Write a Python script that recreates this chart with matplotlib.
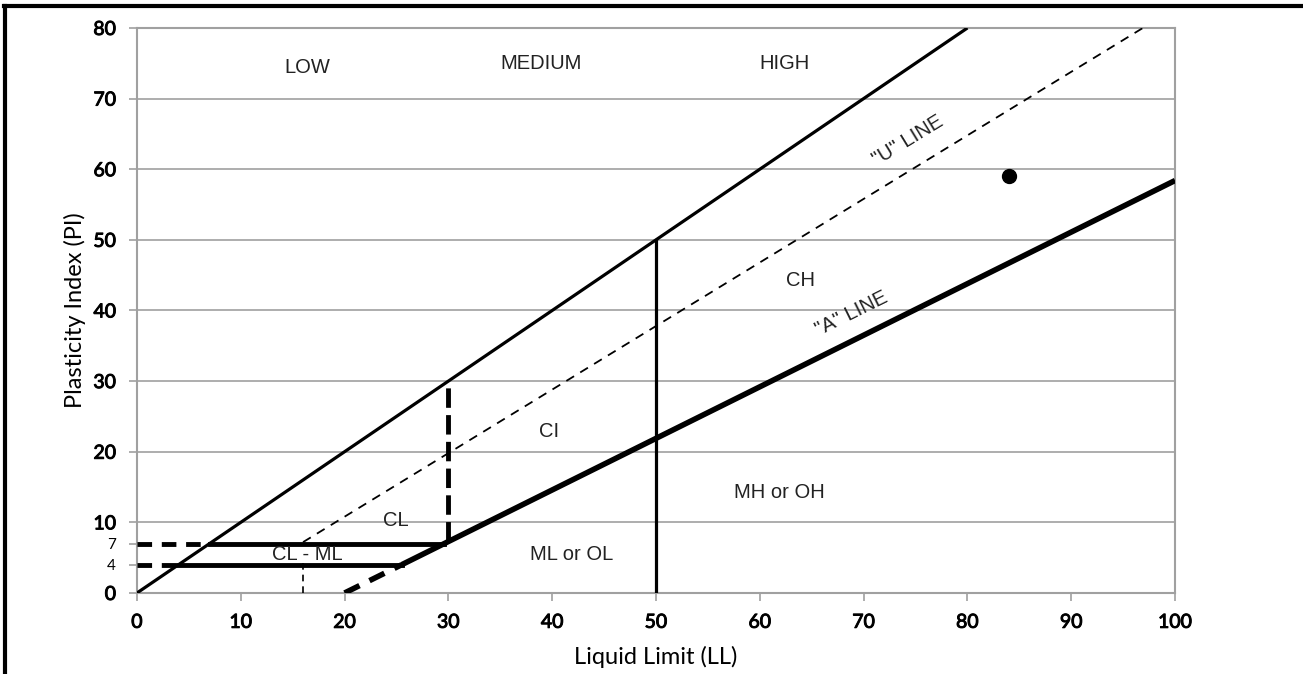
import matplotlib
matplotlib.use('Agg')
import matplotlib.pyplot as plt
import matplotlib.patheffects as pe
from matplotlib.lines import Line2D
import numpy as np

plt.rcParams['font.family'] = ['Liberation Sans', 'DejaVu Sans']

# boundary lines (liquid limit, plasticity index)
upper_ll = [0, 80]
upper_pi = [0, 80]
u_ll = [16, 96.9]
u_pi = [7.2, 80]
a_dash_ll = [20, 25.5]
a_dash_pi = [0, 4]
a_ll = [25.5, 100]
a_pi = [4, 58.4]
ll50_ll = [50, 50]
ll50_pi = [0, 50]
ll30_ll = [30, 30]
ll30_pi = [7.3, 30]
pi7_ll = [7, 29.6]
pi7_pi = [7, 7]
pi7_dash_ll = [0, 7]
pi4_ll = [4, 25.5]
pi4_pi = [4, 4]
pi4_dash_ll = [0, 4]
ll16_ll = [16, 16]
ll16_pi = [0, 4.5]

# sample point
sample_ll = [84]
sample_pi = [59]

zone_labels = ['LOW', 'MEDIUM', 'HIGH', 'CH', 'CI', 'CL', 'CL - ML', 'ML or OL', 'MH or OH']
zone_ll = [16.4, 38.9, 62.4, 63.9, 39.7, 24.9, 16.4, 41.9, 61.9]
zone_pi = [74.4, 74.9, 75.0, 44.2, 22.9, 10.2, 5.5, 5.4, 14.2]

x_ticks = [0, 10, 20, 30, 40, 50, 60, 70, 80, 90, 100]
y_ticks = [0, 4, 7, 10, 20, 30, 40, 50, 60, 70, 80]

fig = plt.figure(figsize=(13.03, 6.74), dpi=100)
ax = fig.add_axes([0.1051, 0.1202, 0.7967, 0.8383])

for y in [10, 20, 30, 40, 50, 60, 70, 80]:
    ax.axhline(y, color='#a0a0a0', lw=1.2, zorder=1)

ax.plot(upper_ll, upper_pi, color='black', lw=2.3, solid_capstyle='butt', zorder=3)
ax.plot(u_ll, u_pi, color='black', lw=1.3, ls=(0, (5, 4)), zorder=3)
ax.plot(a_ll, a_pi, color='black', lw=4, solid_capstyle='butt', zorder=3)
ax.plot(a_dash_ll, a_dash_pi, color='black', lw=4, ls=(0, (3, 2)), zorder=3)
ax.plot(ll50_ll, ll50_pi, color='black', lw=2.3, zorder=3)
ax.plot(ll30_ll, ll30_pi, color='black', lw=3.5, ls=(0, (4, 1.5)), zorder=3)
ax.plot(pi7_ll, pi7_pi, color='black', lw=3.5, zorder=3)
ax.plot(pi7_dash_ll, pi7_pi, color='black', lw=3.5, ls=(0, (3, 2)), zorder=3)
ax.plot(pi4_ll, pi4_pi, color='black', lw=3.5, zorder=3)
ax.plot(pi4_dash_ll, pi4_pi, color='black', lw=3.5, ls=(0, (3, 2)), zorder=3)
ax.plot(ll16_ll, ll16_pi, color='black', lw=1.2, ls=(0, (4, 3)), zorder=3)

ax.plot(sample_ll, sample_pi, 'o', color='black', markersize=10, zorder=4)

for lab, x, y in zip(zone_labels, zone_ll, zone_pi):
    ax.text(x, y, lab, fontsize=14.5, ha='center', va='center', color='#222222', zorder=5)

ax.text(74.3, 64.1, '"U" LINE', fontsize=14.5, ha='center', va='center', rotation=31.5, color='#222222')
ax.text(68.8, 39.6, '"A" LINE', fontsize=14.5, ha='center', va='center', rotation=26.4, color='#222222')

ax.set_xlim(0, 100)
ax.set_ylim(0, 80)
ax.set_xticks(x_ticks)
ax.set_yticks(y_ticks)
tick_font = ['Lato', 'DejaVu Sans']
bold_fx = [pe.withStroke(linewidth=0.7, foreground='black')]
xlabs = ax.set_xticklabels([str(t) for t in x_ticks], fontsize=14, family=tick_font)
ylabs = ax.set_yticklabels([str(t) for t in y_ticks], fontsize=14, family=tick_font)
for lab in xlabs:
    lab.set_path_effects(bold_fx)
for t, lab in zip(y_ticks, ylabs):
    if t in (4, 7):
        lab.set_fontsize(11)
    else:
        lab.set_path_effects(bold_fx)
ax.tick_params(colors='#a0a0a0', labelcolor='black', length=6, width=1.2)
ax.tick_params(axis='x', pad=9)
ax.tick_params(axis='y', pad=9)
for s in ax.spines.values():
    s.set_color('#a0a0a0')
    s.set_linewidth(1.5)

ax.set_xlabel('Liquid Limit (LL)', fontsize=17, labelpad=11, family=tick_font)
ax.set_ylabel('Plasticity Index (PI)', fontsize=17, labelpad=5, family=tick_font)

# page frame
fig.add_artist(Line2D([0.003, 1.0], [0.991, 0.991], color='black', lw=3, transform=fig.transFigure))
fig.add_artist(Line2D([0.004, 0.004], [0.0, 0.991], color='black', lw=3, transform=fig.transFigure))

plt.savefig('out.png', dpi=100)
